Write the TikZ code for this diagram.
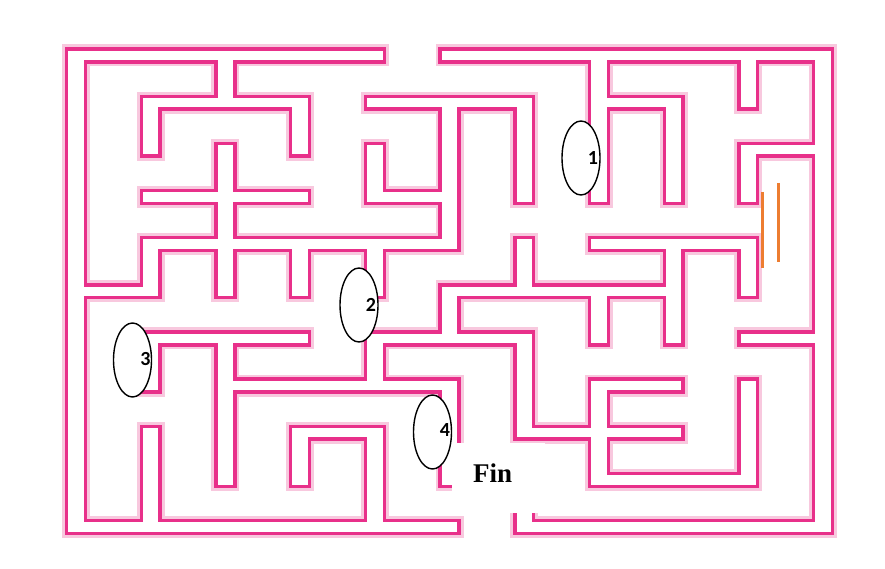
\documentclass[tikz,border=0pt]{standalone}
\usepackage{fontspec}
\usetikzlibrary{shapes.geometric}
\newfontfamily\numfont{Carlito}
\newfontfamily\finfont{Liberation Serif}
\definecolor{mzdark}{RGB}{232,48,138}
\definecolor{mzlight}{RGB}{248,200,222}
\definecolor{mzorange}{RGB}{237,125,49}
\def\mazewalls{0/0/4/0, 5/0/10/0, 0/0/0/10, 10/0/10/10, 0/10/5/10, 6/10/10/10,
 2/0/2/1, 1/1/3/1, 1/1/1/2, 3/1/3/2, 2/2/2/4, 1/3/3/3,
 4/1/6/1, 5/1/5/4, 6/1/6/3, 4/2/4/3, 4/3/5/3,
 7/0/7/3, 7/1/8/1, 8/1/8/3, 9/0/9/1, 9/2/10/2, 9/2/9/3,
 1/4/5/4, 1/4/1/5, 0/5/1/5, 2/4/2/5, 3/4/3/5, 4/4/4/5,
 6/4/6/5, 5/5/8/5, 5/5/5/6, 7/5/7/6, 7/4/9/4, 8/4/8/6, 9/4/9/5, 9/6/10/6,
 1/6/3/6, 1/6/1/7, 2/6/2/9, 2/7/5/7, 4/6/4/7, 4/6/6/6, 6/6/6/8, 6/8/7/8, 5/7/5/9,
 1/8/1/10, 3/8/3/9, 3/8/4/8, 4/8/4/10,
 7/7/7/9, 7/7/8/7, 7/8/8/8, 7/9/9/9, 9/7/9/9, 6/9/6/10}
\tikzset{
  door/.style={draw=black, line width=1.4pt, fill=white, ellipse, minimum width=38pt, minimum height=74pt, inner sep=0pt},
  doornum/.style={font=\numfont\bfseries\fontsize{20}{20}\selectfont, inner sep=0pt},
  orangemark/.style={draw=mzorange, line width=3pt}
}
\begin{document}
\begin{tikzpicture}[x=1pt,y=-1pt]
\useasboundingbox (0,0) rectangle (885,569);
\fill[white] (0,0) rectangle (885,569);
\foreach \e/\c in {4.6/mzlight, 1.7/mzdark, -1.7/white} {
  \foreach \a/\b/\p/\q in \mazewalls {
    \fill[\c] ({76+74.7*\a-9.4-(\e)},{55.5+47.15*\b-6.4-(\e)}) rectangle ({76+74.7*\p+9.4+(\e)},{55.5+47.15*\q+6.4+(\e)});
  }
}
% orange marks
\coordinate (o1a) at (762,192);
\coordinate (o1b) at (762,268);
\coordinate (o2a) at (778,183);
\coordinate (o2b) at (778,262);
\draw[orangemark] (o1a) -- (o1b);
\draw[orangemark] (o2a) -- (o2b);
% doors
\node[door] (e1) at (581,158) {};
\node[door] (e2) at (359,305) {};
\node[door] (e3) at (132.5,360) {};
\node[door] (e4) at (432.5,432) {};
\node[doornum] (n1) at (593,158.5) {1};
\node[doornum] (n2) at (371,305) {2};
\node[doornum] (n3) at (145.5,359) {3};
\node[doornum] (n4) at (445,430.5) {4};
% Fin
\fill[white] (452,443) rectangle (545,513);
\node[font=\finfont\bfseries\fontsize{27}{27}\selectfont, anchor=base, inner sep=0pt] (fin) at (492.5,482) {Fin};
\end{tikzpicture}
\end{document}
